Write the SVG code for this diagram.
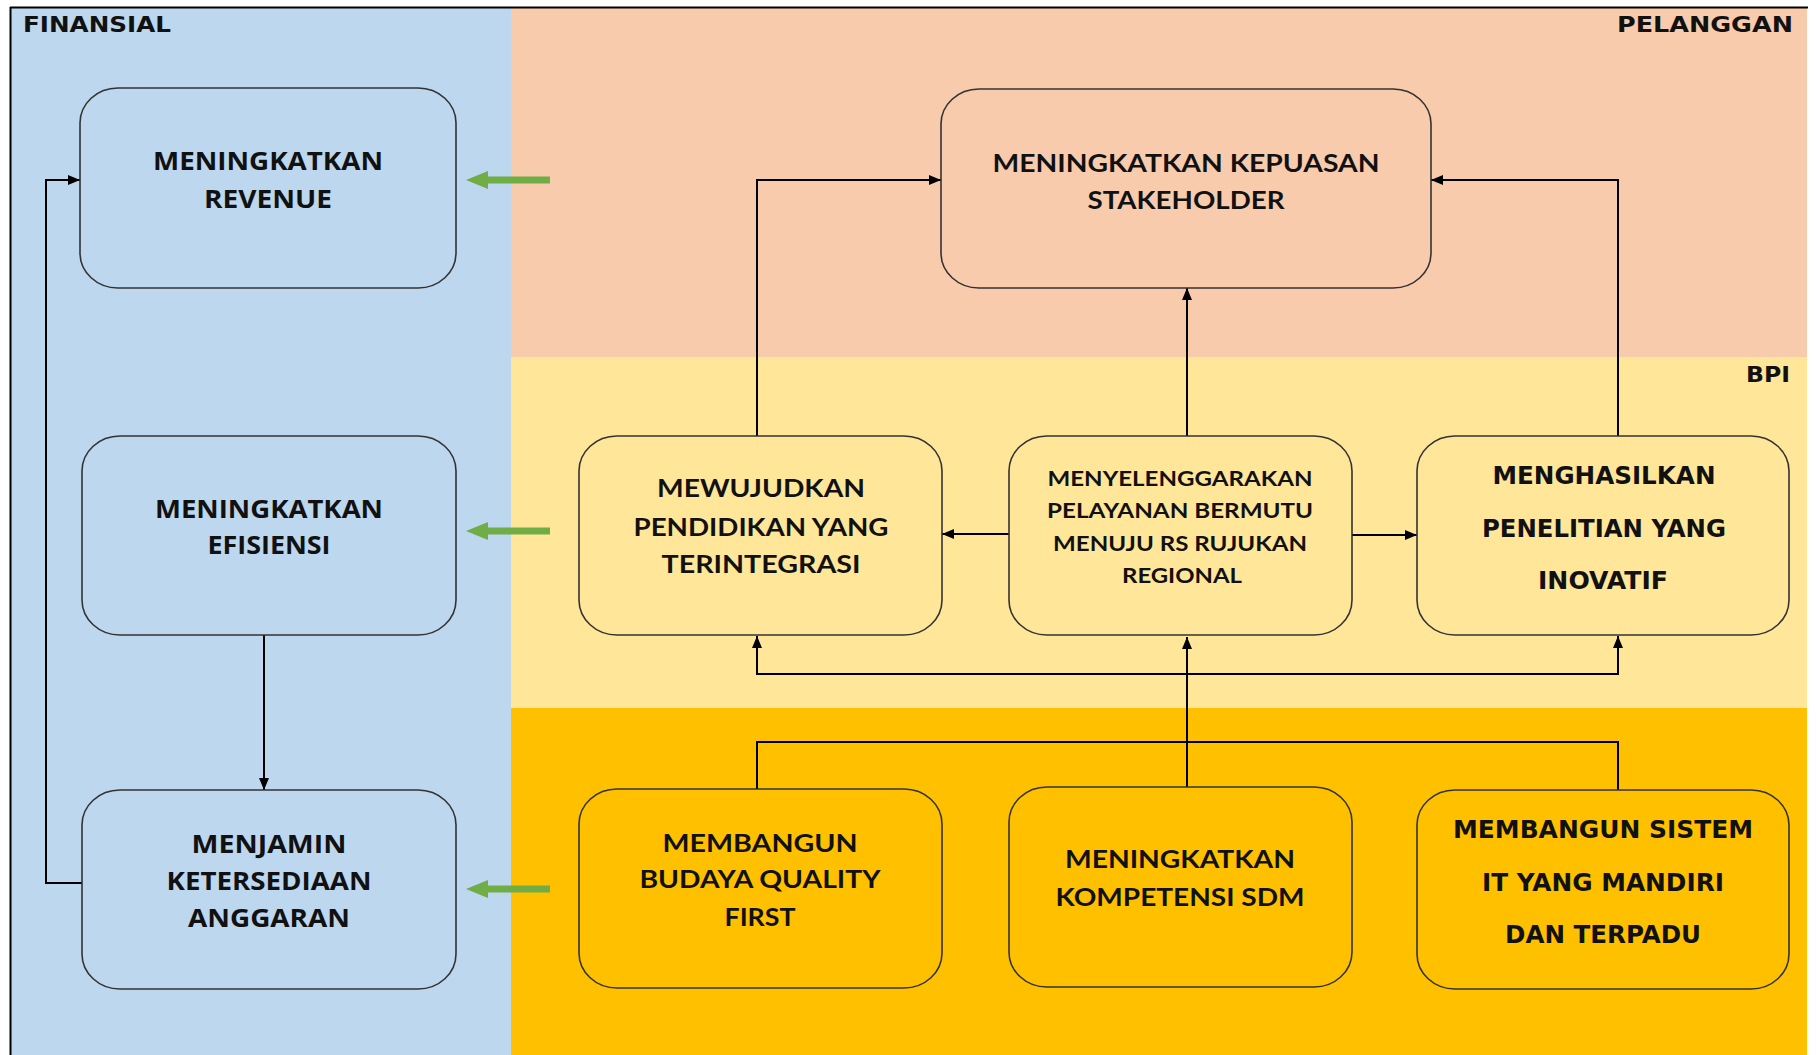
<svg xmlns="http://www.w3.org/2000/svg" width="1816" height="1055" viewBox="0 0 1816 1055">
<style>
.box{stroke:#333;stroke-width:1.6}
.fin{fill:#BDD7EE}
.pel{fill:#F8CBAD}
.bpi{fill:#FFE699}
.gold{fill:#FFC000}
.t{font-weight:bold;fill:#111;text-anchor:middle}
.os{font-family:"Open Sans","DejaVu Sans",sans-serif;font-size:25px}
.cal{font-family:Lato,"Open Sans",sans-serif;font-size:25px}
.vd{font-family:"DejaVu Sans","Liberation Sans",sans-serif;font-size:24px}
.sm{font-size:21px}
.lbl{font-family:"DejaVu Sans","Liberation Sans",sans-serif;font-weight:bold;font-size:22px;fill:#111}
.c{fill:none;stroke:#000;stroke-width:2}
.g{fill:#70AD47}
</style>
<defs>
<marker id="ah" markerUnits="userSpaceOnUse" markerWidth="14" markerHeight="12" refX="12" refY="5" orient="auto">
<path d="M0,0 L12,5 L0,10 z" fill="#000"/>
</marker>
</defs>
<rect x="0" y="0" width="1816" height="1055" fill="#fff"/>
<rect x="11" y="8" width="500" height="1047" class="fin"/>
<rect x="511" y="8" width="1296" height="349" class="pel"/>
<rect x="511" y="357" width="1296" height="351" class="bpi"/>
<rect x="511" y="708" width="1296" height="347" class="gold"/>
<line x1="10" y1="7.5" x2="1808" y2="7.5" stroke="#000" stroke-width="2"/>
<line x1="10.5" y1="7" x2="10.5" y2="1055" stroke="#000" stroke-width="2"/>
<text class="lbl" x="23" y="32" textLength="148" lengthAdjust="spacingAndGlyphs">FINANSIAL</text>
<text class="lbl" x="1793" y="32" text-anchor="end" textLength="176" lengthAdjust="spacingAndGlyphs">PELANGGAN</text>
<text class="lbl" x="1790" y="382" text-anchor="end" textLength="44" lengthAdjust="spacingAndGlyphs">BPI</text>

<g id="connectors">
<path class="c" d="M757,436 V180 H941" marker-end="url(#ah)"/>
<path class="c" d="M1187,436 V288" marker-end="url(#ah)"/>
<path class="c" d="M1618,436 V180 H1431" marker-end="url(#ah)"/>
<path class="c" d="M1009,534 H942" marker-end="url(#ah)"/>
<path class="c" d="M1352,535 H1417" marker-end="url(#ah)"/>
<path class="c" d="M1187,787 V637" marker-end="url(#ah)"/>
<path class="c" d="M1187,674 H757 V636" marker-end="url(#ah)"/>
<path class="c" d="M1187,674 H1618 V636" marker-end="url(#ah)"/>
<path class="c" d="M757,789 V742 H1618 V790"/>
<path class="c" d="M264,635 V790" marker-end="url(#ah)"/>
<path class="c" d="M82,883 H46 V180 H80" marker-end="url(#ah)"/>
<path class="g" d="M550,176.5 H488 V171 L466,180 L488,189 V183.5 H550 z"/>
<path class="g" d="M550,527.5 H488 V522 L466,531 L488,540 V534.5 H550 z"/>
<path class="g" d="M550,885.5 H488 V880 L466,889 L488,898 V892.5 H550 z"/>
</g>

<g id="revenue">
<rect class="box fin" x="80" y="88" width="376" height="200" rx="38" ry="35"/>
<text class="t os" x="268" y="170" textLength="230" lengthAdjust="spacingAndGlyphs">MENINGKATKAN</text>
<text class="t os" x="268" y="208" textLength="128" lengthAdjust="spacingAndGlyphs">REVENUE</text>
</g>
<g id="efisiensi">
<rect class="box fin" x="82" y="436" width="374" height="199" rx="38" ry="35"/>
<text class="t os" x="269" y="518" textLength="228" lengthAdjust="spacingAndGlyphs">MENINGKATKAN</text>
<text class="t os" x="269" y="554" textLength="123" lengthAdjust="spacingAndGlyphs">EFISIENSI</text>
</g>
<g id="anggaran">
<rect class="box fin" x="82" y="790" width="374" height="199" rx="38" ry="35"/>
<text class="t os" x="269" y="853" textLength="155" lengthAdjust="spacingAndGlyphs">MENJAMIN</text>
<text class="t os" x="269" y="890" textLength="205" lengthAdjust="spacingAndGlyphs">KETERSEDIAAN</text>
<text class="t os" x="269" y="927" textLength="162" lengthAdjust="spacingAndGlyphs">ANGGARAN</text>
</g>
<g id="kepuasan">
<rect class="box pel" x="941" y="89" width="490" height="199" rx="38" ry="35"/>
<text class="t cal" x="1186" y="172" textLength="387" lengthAdjust="spacingAndGlyphs">MENINGKATKAN KEPUASAN</text>
<text class="t cal" x="1186" y="209" textLength="197" lengthAdjust="spacingAndGlyphs">STAKEHOLDER</text>
</g>
<g id="pendidikan">
<rect class="box bpi" x="579" y="436" width="363" height="199" rx="38" ry="35"/>
<text class="t cal" x="761" y="497" textLength="208" lengthAdjust="spacingAndGlyphs">MEWUJUDKAN</text>
<text class="t cal" x="761" y="536" textLength="255" lengthAdjust="spacingAndGlyphs">PENDIDIKAN YANG</text>
<text class="t cal" x="761" y="573" textLength="199" lengthAdjust="spacingAndGlyphs">TERINTEGRASI</text>
</g>
<g id="pelayanan">
<rect class="box bpi" x="1009" y="436" width="343" height="199" rx="38" ry="35"/>
<text class="t cal sm" x="1180" y="486" textLength="265" lengthAdjust="spacingAndGlyphs">MENYELENGGARAKAN</text>
<text class="t cal sm" x="1180" y="518" textLength="266" lengthAdjust="spacingAndGlyphs">PELAYANAN BERMUTU</text>
<text class="t cal sm" x="1180" y="551" textLength="254" lengthAdjust="spacingAndGlyphs">MENUJU RS RUJUKAN</text>
<text class="t cal sm" x="1182" y="583" textLength="120" lengthAdjust="spacingAndGlyphs">REGIONAL</text>
</g>
<g id="penelitian">
<rect class="box bpi" x="1417" y="436" width="372" height="199" rx="38" ry="35"/>
<text class="t vd" x="1604" y="484" textLength="223" lengthAdjust="spacingAndGlyphs">MENGHASILKAN</text>
<text class="t vd" x="1604" y="537" textLength="244" lengthAdjust="spacingAndGlyphs">PENELITIAN YANG</text>
<text class="t vd" x="1603" y="589" textLength="130" lengthAdjust="spacingAndGlyphs">INOVATIF</text>
</g>
<g id="quality">
<rect class="box gold" x="579" y="789" width="363" height="199" rx="38" ry="35"/>
<text class="t cal" x="760" y="852" textLength="195" lengthAdjust="spacingAndGlyphs">MEMBANGUN</text>
<text class="t cal" x="760" y="888" textLength="241" lengthAdjust="spacingAndGlyphs">BUDAYA QUALITY</text>
<text class="t cal" x="760" y="926" textLength="71" lengthAdjust="spacingAndGlyphs">FIRST</text>
</g>
<g id="kompetensi">
<rect class="box gold" x="1009" y="787" width="343" height="200" rx="38" ry="35"/>
<text class="t cal" x="1180" y="868" textLength="230" lengthAdjust="spacingAndGlyphs">MENINGKATKAN</text>
<text class="t cal" x="1180" y="906" textLength="249" lengthAdjust="spacingAndGlyphs">KOMPETENSI SDM</text>
</g>
<g id="sistem">
<rect class="box gold" x="1417" y="790" width="372" height="199" rx="38" ry="35"/>
<text class="t vd" x="1603" y="838" textLength="300" lengthAdjust="spacingAndGlyphs">MEMBANGUN SISTEM</text>
<text class="t vd" x="1603" y="891" textLength="242" lengthAdjust="spacingAndGlyphs">IT YANG MANDIRI</text>
<text class="t vd" x="1603" y="943" textLength="196" lengthAdjust="spacingAndGlyphs">DAN TERPADU</text>
</g>
</svg>
